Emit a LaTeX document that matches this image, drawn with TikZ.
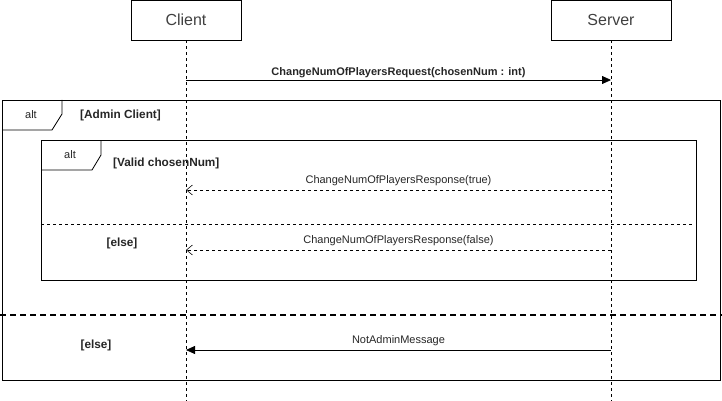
\documentclass[tikz,border=0pt]{standalone}
\usepackage{fontspec}
\setmainfont{Liberation Sans}
\usetikzlibrary{arrows.meta}
\begin{document}
\begin{tikzpicture}[x=1pt,y=-1pt,
  actor/.style={draw,line width=0.8pt,minimum height=40pt,inner sep=0pt,font=\fontsize{16}{19}\selectfont,text=black!75},
  life/.style={line width=0.8pt,dash pattern=on 3pt off 3pt},
  frame/.style={line width=0.8pt},
  msg/.style={font=\fontsize{11}{13}\selectfont,text=black!85,inner sep=1pt},
  bmsg/.style={font=\bfseries\fontsize{11}{13}\selectfont,text=black!85,inner sep=1pt},
  sync/.style={line width=0.8pt,-{Triangle[length=9pt,width=8pt]}},
  reply/.style={line width=0.6pt,dash pattern=on 3pt off 3pt,-{Straight Barb[length=6pt,width=10pt,line width=0.6pt]}},
  guard/.style={font=\bfseries\fontsize{11.8}{14}\selectfont,text=black!85,anchor=west,inner sep=0pt}]
\useasboundingbox (0,0) rectangle (722,401);
% actors
\node[actor,minimum width=110pt] (client) at (186,20) {Client};
\node[actor,minimum width=120pt] (server) at (611,20) {Server};
\coordinate (cend) at (186,401);
\coordinate (send) at (611,401);
\draw[life] (client.south) -- (cend);
\draw[life] (server.south) -- (send);
% request
\coordinate (c1) at (186,80);
\coordinate (s1) at (611,80);
\draw[sync] (c1) -- (s1) node[bmsg,midway,above=1pt] {ChangeNumOfPlayersRequest(chosenNum : int)};
% outer frame
\draw[frame] (2,100) rectangle (720,380);
\draw[frame] (2,130) -- (52,130) -- (62,114) -- (62,100);
\node[msg] (alt1) at (31,115) {alt};
\node[guard] (g1) at (80,115) {[Admin Client]};
% inner frame
\draw[frame] (41,140) rectangle (696,280);
\draw[frame] (41,170) -- (92,170) -- (101,155) -- (101,140);
\node[msg] (alt2) at (70,155) {alt};
\node[guard] (g2) at (113,163) {[Valid chosenNum]};
% reply true
\coordinate (s2) at (611,190);
\coordinate (c2) at (186,190);
\draw[reply] (s2) -- (c2) node[msg,midway,above=3pt] {ChangeNumOfPlayersResponse(true)};
% inner divider
\coordinate (d1a) at (41,224);
\coordinate (d1b) at (692,224);
\draw[line width=0.6pt,dash pattern=on 3pt off 3pt] (d1a) -- (d1b);
\node[guard,anchor=center] (g3) at (122,243) {[else]};
% reply false
\coordinate (s3) at (611,250);
\coordinate (c3) at (186,250);
\draw[reply] (s3) -- (c3) node[msg,midway,above=3pt] {ChangeNumOfPlayersResponse(false)};
% outer divider
\coordinate (d2a) at (0,315);
\coordinate (d2b) at (722,315);
\draw[line width=1.6pt,dash pattern=on 6pt off 4pt] (d2a) -- (d2b);
\node[guard,anchor=center] (g4) at (96,345) {[else]};
% not admin
\coordinate (s4) at (611,350);
\coordinate (c4) at (186,350);
\draw[sync] (s4) -- (c4) node[msg,midway,above=3pt] {NotAdminMessage};
\end{tikzpicture}
\end{document}
